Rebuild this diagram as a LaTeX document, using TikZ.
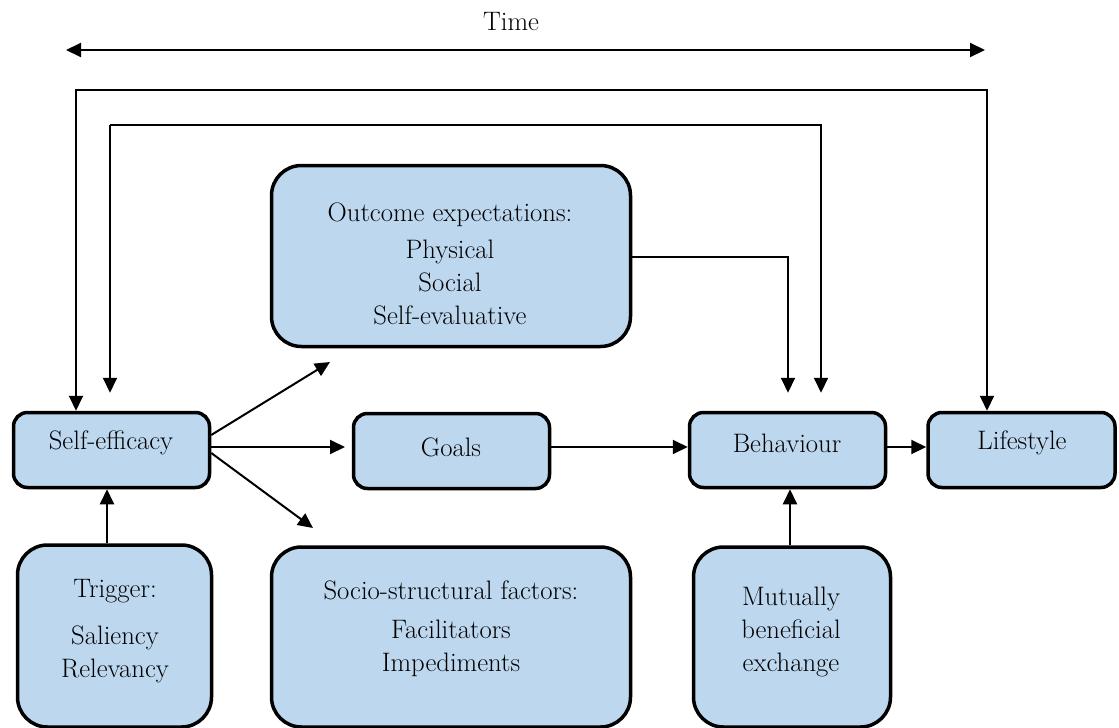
\documentclass[tikz,border=0pt]{standalone}
\usetikzlibrary{arrows.meta}
\definecolor{boxblue}{HTML}{BDD7EE}
\begin{document}
\begin{tikzpicture}[x=1pt,y=-1pt,
  >={Triangle[length=15pt,width=14pt]},
  box/.style={draw=black, line width=3.5pt, fill=boxblue, rounded corners=14pt, inner sep=0pt},
  bigbox/.style={box, rounded corners=30pt},
  lbl/.style={font=\fontsize{26.7}{33}\selectfont, align=center, inner sep=0pt, text=black},
  conn/.style={line width=2pt, ->},
  line/.style={line width=2pt},
]
\useasboundingbox (0,0) rectangle (1119,728);

% boxes
\node[box, minimum width=196pt, minimum height=75pt] (se) at (111.5,450) {};
\node[box, minimum width=196pt, minimum height=75pt] (goals) at (451.5,451) {};
\node[box, minimum width=196pt, minimum height=75pt] (beh) at (787.5,450) {};
\node[box, minimum width=187pt, minimum height=75pt] (life) at (1021.5,450) {};
\node[bigbox, minimum width=359pt, minimum height=181pt] (out) at (451,256) {};
\node[bigbox, minimum width=359pt, minimum height=180pt] (soc) at (451,637) {};
\node[bigbox, minimum width=194pt, minimum height=182pt] (trig) at (114.5,636) {};
\node[bigbox, minimum width=197pt, minimum height=180pt] (mut) at (792,637) {};

% labels
\node[lbl] (time) at (511,22) {Time};
\node[lbl] (seT) at (111,443) {Self-efficacy};
\node[lbl] (goalsT) at (451,447) {Goals};
\node[lbl] (behT) at (787,443) {Behaviour};
\node[lbl] (lifeT) at (1022,443) {Lifestyle};
\node[lbl] (outT) at (450,264) {Outcome expectations:\\[4pt]Physical\\Social\\Self-evaluative};
\node[lbl] (socT) at (451,629) {Socio-structural factors:\\[6pt]Facilitators\\Impediments};
\node[lbl] (trigT) at (115,631) {Trigger:\\[14pt]Saliency\\Relevancy};
\node[lbl] (mutT) at (791,631.5) {Mutually\\beneficial\\exchange};

% coordinates
\coordinate (tL) at (66,50);
\coordinate (tR) at (985,50);
\coordinate (o1) at (76,90);
\coordinate (o2) at (987,90);
\coordinate (i1) at (110,125);
\coordinate (i2) at (821,125);
\coordinate (e1) at (788,257);
\coordinate (aOut) at (330,362);
\coordinate (aGoal) at (345,447);
\coordinate (aSoc) at (313,528);

% connectors
\draw[line, <->] (tL) -- (tR);
\draw[line, <->] (se.north -| o1) -- (o1) -- (o2) -- (life.north -| o2);
\draw[conn, shorten >=18pt] (i1) -- (i2) -- (beh.north -| i2);
\draw[conn, shorten >=18pt] (i1) -- (se.north -| i1);
\draw[conn, shorten >=18pt] (out.east |- e1) -- (e1) -- (beh.north -| e1);
\draw[conn] ([yshift=15pt]se.east) -- (aOut);
\draw[conn] ([yshift=3pt]se.east) -- (aGoal);
\draw[conn] ([yshift=-3pt]se.east) -- (aSoc);
\draw[conn] (goals.east |- aGoal) -- (beh.west |- aGoal);
\draw[conn] (beh.east |- aGoal) -- (life.west |- aGoal);
\draw[conn] (trig.north -| 107,0) -- (se.south -| 107,0);
\draw[conn] (mut.north -| 790,0) -- (beh.south -| 790,0);
\end{tikzpicture}
\end{document}
